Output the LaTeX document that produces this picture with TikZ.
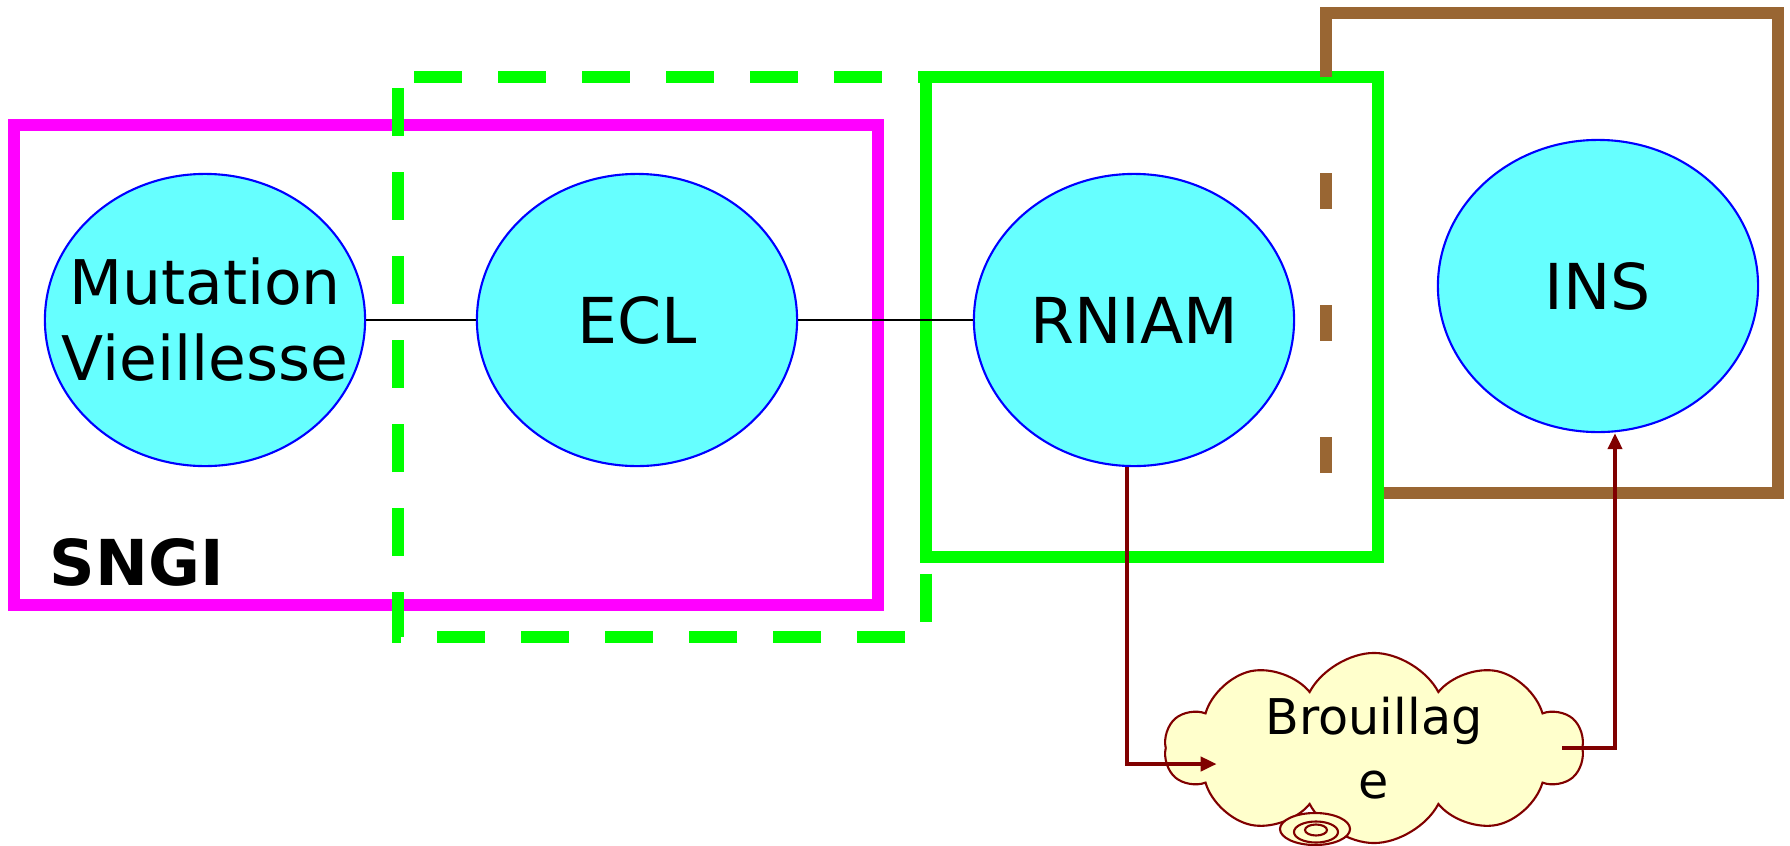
\documentclass[tikz,border=0pt]{standalone}
\usepackage{fontspec}
\setmainfont{DejaVu Sans}
\usetikzlibrary{shapes.geometric}
\usetikzlibrary{shapes.symbols, arrows.meta}

\definecolor{sngimag}{RGB}{255,0,255}
\definecolor{boxgreen}{RGB}{0,255,0}
\definecolor{boxbrown}{RGB}{153,102,51}
\definecolor{entcyan}{RGB}{102,255,255}
\definecolor{entblue}{RGB}{0,0,255}
\definecolor{flowred}{RGB}{128,0,0}
\definecolor{cloudfill}{RGB}{255,255,204}

\tikzset{
  entity/.style={ellipse, draw=entblue, fill=entcyan, line width=0.6pt, minimum width=3.2cm, minimum height=2.92cm, inner sep=0pt, align=center, font=\fontsize{18}{21.6}\selectfont},
  frame/.style={line width=3.4pt},
  flow/.style={draw=flowred, line width=1.1pt, -{Triangle[length=1.6mm,width=1.4mm]}},
}

\begin{document}
\begin{tikzpicture}[x=0.01cm,y=-0.01cm]
\useasboundingbox (0,0) rectangle (1790,845);
\draw[frame,sngimag] (14,125) rectangle (878,605);
\draw[frame,boxgreen,dash pattern=on 13.66pt off 10.24pt,dash phase=19.35pt] (398,77) -- (926,77) -- (926,637) -- (398,637) -- cycle;
\draw[frame,boxgreen] (926,77) rectangle (1378,557);
\draw[frame,boxbrown] (1326,77) -- (1326,13) -- (1778,13) -- (1778,493) -- (1384,493);
\draw[frame,boxbrown,dash pattern=on 10.24pt off 27.31pt,dash phase=10.24pt] (1326,77) -- (1326,493);

\node[entity,inner xsep=-0.6cm,font=\fontsize{17.5}{21.6}\selectfont] (mv) at (205,320) {Mutation\\Vieillesse};
\node[entity] (ecl) at (637,320) {ECL};
\node[entity] (rniam) at (1134,320) {RNIAM};
\node[entity] (ins) at (1598,286) {INS};
\draw[black,line width=0.5pt] (mv) -- (ecl);
\draw[black,line width=0.5pt] (ecl) -- (rniam);

\node[font=\bfseries\fontsize{18}{21.6}\selectfont,text=black] (sngi) at (137,562) {SNGI};

\node[cloud, cloud puffs=10, cloud puff arc=125, cloud ignores aspect, draw=flowred, fill=cloudfill, line width=0.6pt, inner sep=0pt, inner ysep=-0.3cm, minimum width=4.18cm, minimum height=1.9cm, align=center, font=\fontsize{14}{18}\selectfont] (noise) at (1374,748) {Brouillag\\e};
\draw[flowred,fill=cloudfill,line width=0.6pt] (1315,829) ellipse [x radius=0.35cm, y radius=0.16cm];
\draw[flowred,line width=0.6pt] (1316,832) ellipse [x radius=0.22cm, y radius=0.105cm];
\draw[flowred,line width=0.6pt] (1316,830) ellipse [x radius=0.11cm, y radius=0.055cm];

\draw[flow] ([xshift=-0.07cm]rniam.south) |- ([xshift=0.52cm,yshift=-0.16cm]noise.west);
\draw[flow] ([xshift=-0.21cm]noise.east) -| ([xshift=0.17cm]ins.south);

\end{tikzpicture}
\end{document}
